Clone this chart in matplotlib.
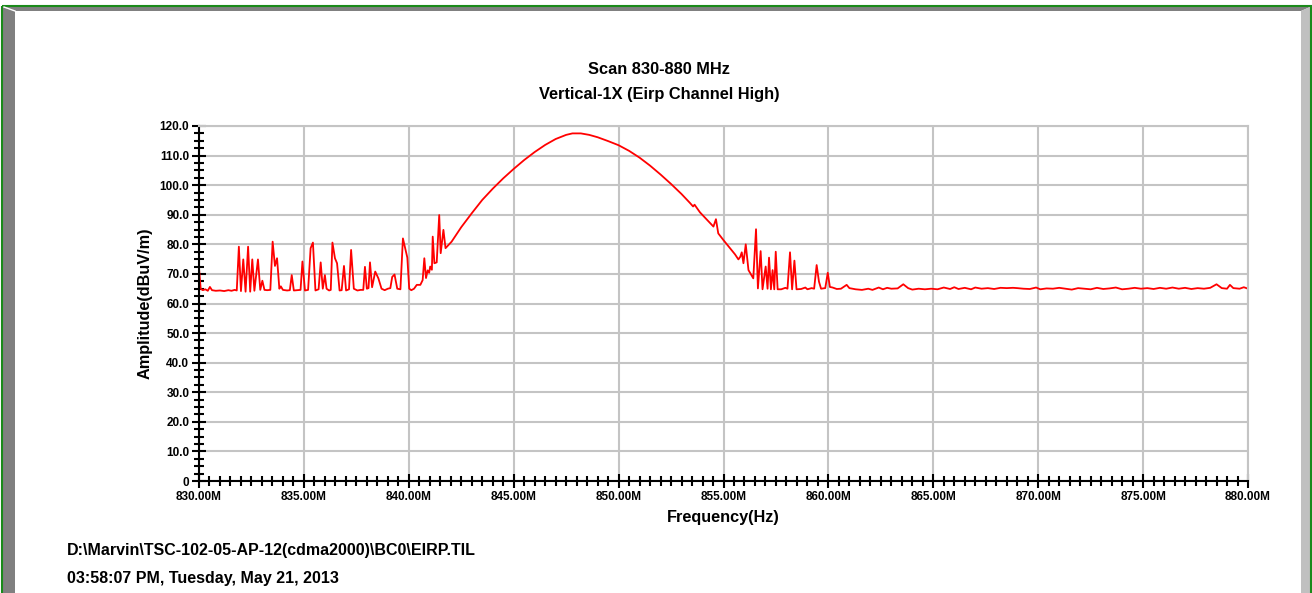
import matplotlib.pyplot as plt
from matplotlib.patches import Polygon, Rectangle
from matplotlib.ticker import MultipleLocator, FuncFormatter

# --- data (MHz, dBuV/m) ---
freq_low = [830.00, 830.08, 830.18, 830.30, 830.42, 830.52, 830.62, 830.80, 831.00, 831.20,
            831.40, 831.55, 831.70, 831.80, 831.90, 832.00, 832.11, 832.22, 832.34, 832.44,
            832.54, 832.64, 832.81, 832.92, 833.02, 833.12, 833.25, 833.40, 833.51, 833.62,
            833.72, 833.83, 833.90, 834.00, 834.20, 834.33, 834.42, 834.52, 834.70, 834.84,
            834.93, 835.05, 835.20, 835.32, 835.43, 835.55, 835.70, 835.80, 835.90, 836.00,
            836.08, 836.20, 836.28, 836.36, 836.48, 836.58, 836.70, 836.80, 836.91, 837.01,
            837.15, 837.25, 837.38, 837.55, 837.70, 837.83, 837.91, 838.00, 838.08, 838.15,
            838.25, 838.40, 838.55, 838.70, 838.85, 839.00, 839.12, 839.21, 839.32, 839.45,
            839.60, 839.72, 839.93, 840.02, 840.12, 840.25, 840.38, 840.55, 840.66, 840.74,
            840.82, 840.90, 840.97, 841.02, 841.10, 841.14, 841.22, 841.33, 841.45, 841.52,
            841.65, 841.75, 842.04]
amp_low = [72.0, 65.0, 64.5, 64.8, 64.3, 65.6, 64.5, 64.3, 64.4, 64.2,
           64.5, 64.3, 64.6, 64.4, 79.2, 64.2, 74.9, 64.0, 79.2, 64.0,
           74.9, 64.3, 74.9, 64.6, 67.7, 64.6, 64.5, 64.6, 80.9, 72.7,
           75.3, 65.0, 65.8, 64.6, 64.4, 64.5, 69.6, 64.4, 64.5, 64.6,
           74.2, 64.4, 64.6, 78.7, 80.6, 64.4, 64.8, 73.9, 65.0, 69.6,
           65.0, 64.4, 64.6, 80.6, 75.3, 73.6, 64.4, 64.5, 72.7, 64.4,
           64.8, 78.1, 65.0, 64.4, 64.6, 64.6, 72.4, 65.0, 65.2, 73.9,
           65.5, 70.8, 68.5, 65.0, 64.5, 65.0, 65.2, 69.0, 69.8, 65.0,
           64.8, 82.0, 75.5, 65.0, 64.5, 65.0, 66.3, 66.3, 67.9, 75.3,
           68.6, 71.2, 70.4, 72.5, 71.4, 82.6, 73.6, 73.9, 89.9, 77.0,
           84.9, 78.7, 80.9]

freq_mid = [842.5, 843.0, 843.5, 844.0, 844.5, 845.0, 845.5, 846.0, 846.5, 847.0,
            847.5, 847.8, 848.2, 848.6, 849.0, 849.5, 850.0, 850.5, 851.0, 851.5,
            852.0, 852.5, 853.0, 853.4, 853.55, 853.62, 853.88, 854.2, 854.52, 854.64,
            854.75, 854.99, 855.31, 855.55, 855.71, 855.80, 855.87, 855.95, 856.06, 856.19,
            856.42, 856.55, 856.64, 856.77, 856.86, 857.01, 857.10, 857.17, 857.26, 857.34,
            857.42, 857.49, 857.58, 857.75, 857.95, 858.05, 858.17, 858.27, 858.38, 858.48,
            858.70, 858.90, 859.00, 859.20, 859.32, 859.44, 859.55, 859.65, 859.85, 859.97,
            860.07, 860.20, 860.40]
amp_mid = [85.8, 90.5, 95.0, 98.8, 102.3, 105.5, 108.5, 111.2, 113.6, 115.6,
           117.0, 117.5, 117.5, 117.0, 116.2, 114.9, 113.5, 111.6, 109.3, 106.6,
           103.6, 100.4, 97.0, 94.0, 92.8, 93.4, 90.8, 88.4, 86.0, 88.5,
           83.7, 81.5, 78.7, 76.6, 74.9, 75.8, 77.3, 73.6, 80.0, 71.3,
           68.5, 85.1, 65.1, 77.7, 64.8, 72.5, 65.0, 75.5, 64.8, 71.3,
           64.8, 77.5, 64.8, 64.8, 65.3, 65.0, 77.3, 64.8, 74.5, 64.8,
           64.9, 65.4, 64.8, 65.2, 65.0, 73.0, 67.4, 65.0, 65.2, 70.4,
           65.6, 65.4, 64.9]

freq_high = [860.6, 860.87, 861.0, 861.3, 861.6, 861.9, 862.1, 862.4, 862.6, 862.8,
             863.0, 863.3, 863.57, 863.8, 864.0, 864.3, 864.6, 864.9, 865.2, 865.5,
             865.8, 866.0, 866.2, 866.5, 866.8, 867.0, 867.3, 867.6, 867.9, 868.2,
             868.5, 868.8, 869.0, 869.3, 869.6, 869.9, 870.1, 870.4, 870.7, 871.0,
             871.3, 871.6, 871.9, 872.2, 872.5, 872.8, 873.1, 873.4, 873.7, 874.0,
             874.3, 874.6, 874.9, 875.2, 875.5, 875.8, 876.1, 876.4, 876.7, 877.0,
             877.3, 877.6, 877.9, 878.2, 878.5, 878.75, 879.0, 879.14, 879.3, 879.6,
             879.8, 880.0]
amp_high = [65.0, 66.3, 65.2, 64.8, 64.6, 65.0, 64.6, 65.4, 64.8, 65.3,
            65.0, 65.1, 66.5, 65.2, 64.7, 65.0, 64.8, 65.0, 64.8, 65.4,
            64.9, 65.5, 64.9, 65.3, 64.8, 65.4, 65.0, 65.2, 64.9, 65.3,
            65.2, 65.3, 65.2, 65.0, 64.9, 65.4, 64.8, 65.1, 65.0, 65.3,
            65.0, 64.7, 65.2, 65.0, 64.8, 65.3, 64.9, 65.1, 65.4, 64.8,
            65.0, 65.3, 65.0, 65.2, 64.9, 65.3, 65.0, 65.4, 65.0, 65.3,
            64.9, 65.2, 65.0, 65.3, 66.5, 65.2, 65.0, 66.3, 65.2, 65.0,
            65.5, 65.0]

freq = freq_low + freq_mid + freq_high
amp = amp_low + amp_mid + amp_high

title1 = "Scan 830-880 MHz"
title2 = "Vertical-1X (Eirp Channel High)"
footer1 = r"D:\Marvin\TSC-102-05-AP-12(cdma2000)\BC0\EIRP.TIL"
footer2 = "03:58:07 PM, Tuesday, May 21, 2013"

plt.rcParams['font.family'] = ['Liberation Sans', 'DejaVu Sans']
plt.rcParams['font.weight'] = 'bold'

W, H = 1312, 593
fig = plt.figure(figsize=(W / 100, H / 100), dpi=100)

# window frame (pixel coordinates)
bg = fig.add_axes([0, 0, 1, 1], zorder=-1)
bg.set_xlim(0, W)
bg.set_ylim(H, 0)
bg.axis('off')
bg.add_patch(Polygon([(3, 7), (1310, 7), (1301, 11), (15, 11)], closed=True, fc='#808080', ec='none'))
bg.add_patch(Polygon([(3, 7), (15, 11), (15, 600), (3, 600)], closed=True, fc='#808080', ec='none'))
bg.add_patch(Polygon([(1310, 7), (1310, 600), (1301, 600), (1301, 11)], closed=True, fc='#c0c0c0', ec='none'))
bg.plot([4, 15], [7, 11], color='white', lw=1)
bg.add_patch(Rectangle((2, 6), 1309, 600, fill=False, ec='#1a8a1a', lw=1.5))

ax = fig.add_axes([199 / W, 1 - 481 / H, 1049 / W, 355 / H])
ax.plot(freq, amp, color='#ff0000', lw=1.3)

ax.set_xlim(830, 880)
ax.set_ylim(0, 120)
ax.xaxis.set_major_locator(MultipleLocator(5))
ax.xaxis.set_minor_locator(MultipleLocator(0.5))
ax.yaxis.set_major_locator(MultipleLocator(10))
ax.yaxis.set_minor_locator(MultipleLocator(2.5))
ax.xaxis.set_major_formatter(FuncFormatter(lambda v, p: f"{v:.2f}M"))
ax.yaxis.set_major_formatter(FuncFormatter(lambda v, p: "0" if v == 0 else f"{v:.1f}"))

ax.grid(True, which='major', color='#c4c4c4', lw=1.5)
ax.set_axisbelow(True)
for s in ['top', 'right']:
    ax.spines[s].set_color('#c4c4c4')
    ax.spines[s].set_linewidth(1.5)
for s in ['left', 'bottom']:
    ax.spines[s].set_color('black')
    ax.spines[s].set_linewidth(1.5)

ax.tick_params(which='major', direction='inout', length=10, width=1.5, labelsize=8.5, pad=2)
ax.tick_params(which='minor', direction='inout', length=7, width=1.5)
ax.tick_params(top=False, right=False, which='both')

ax.set_xlabel("Frequency(Hz)", fontsize=11.7, fontweight='bold', labelpad=5)
ax.set_ylabel("Amplitude(dBuV/m)", fontsize=11.7, fontweight='bold', labelpad=5)

fig.text(659 / W, 1 - 70 / H, title1, ha='center', va='center', fontsize=11.8, fontweight='bold')
fig.text(659 / W, 1 - 94 / H, title2, ha='center', va='center', fontsize=11.8, fontweight='bold')
fig.text(67 / W, 1 - 551 / H, footer1, ha='left', va='center', fontsize=11.5, fontweight='bold')
fig.text(67 / W, 1 - 578 / H, footer2, ha='left', va='center', fontsize=11.5, fontweight='bold')

fig.savefig("out.png", dpi=100)
